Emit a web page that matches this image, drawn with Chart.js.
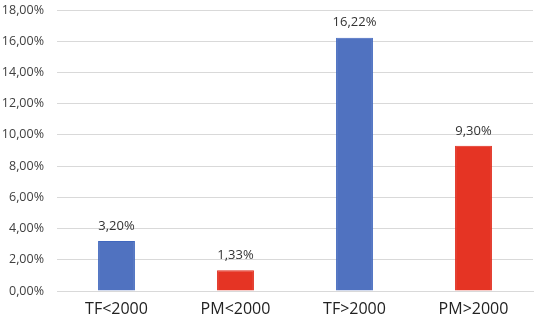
<!DOCTYPE html>
<html>
<head>
<meta charset="utf-8">
<script src="https://cdn.jsdelivr.net/npm/chart.js@4"></script>
<style>
  html, body { margin: 0; padding: 0; background: #fff; }
  #wrap { width: 536px; height: 320px; }
</style>
</head>
<body>
<div id="wrap"><canvas id="barChart" width="536" height="320"></canvas></div>
<script>
const categories = ['TF<2000', 'PM<2000', 'TF>2000', 'PM>2000'];
const percentages = [3.20, 1.33, 16.22, 9.30];
const barColors = ['#5072C0', '#E53424', '#5072C0', '#E53424'];
const borderColors = ['#4067BE', '#E02A1B', '#4067BE', '#E02A1B'];

const fmt = v => v.toFixed(2).replace('.', ',') + '%';

// draws the value above each bar
const valueLabels = {
    id: 'valueLabels',
    afterDatasetsDraw(chart) {
        const ctx = chart.ctx;
        const meta = chart.getDatasetMeta(0);
        ctx.save();
        ctx.font = '13px "Open Sans", sans-serif';
        ctx.fillStyle = '#333';
        ctx.textAlign = 'center';
        ctx.textBaseline = 'middle';
        meta.data.forEach((bar, i) => {
            ctx.fillText(fmt(percentages[i]), bar.x, bar.y - 15);
        });
        ctx.restore();
    }
};

new Chart(document.getElementById('barChart'), {
    type: 'bar',
    data: {
        labels: categories,
        datasets: [{
            data: percentages,
            backgroundColor: barColors,
            borderColor: borderColors,
            borderWidth: 1,
            barPercentage: 0.31,
            categoryPercentage: 1
        }]
    },
    options: {
        responsive: false,
        animation: false,
        layout: { padding: { top: 10, right: 3, left: 0, bottom: 0 } },
        plugins: {
            legend: { display: false },
            tooltip: { enabled: false }
        },
        scales: {
            x: {
                grid: { display: false, drawTicks: false },
                border: { color: '#d9d9d9' },
                ticks: {
                    color: '#222',
                    font: { family: '"Open Sans", sans-serif', size: 16 },
                    padding: 9
                },
                afterFit(scale) {
                    scale.height = 29;
                    scale.paddingLeft = 0;
                    scale.paddingRight = 0;
                }
            },
            y: {
                min: 0,
                max: 18,
                border: { display: false },
                grid: { color: '#d9d9d9', drawTicks: false },
                ticks: {
                    stepSize: 2,
                    color: '#404040',
                    padding: 13,
                    font: { family: '"Open Sans", sans-serif', size: 12.5 },
                    callback: v => fmt(v)
                },
                afterFit(scale) {
                    scale.width = 57;
                    scale.paddingTop = 0;
                    scale.paddingBottom = 0;
                }
            }
        }
    },
    plugins: [valueLabels]
});
</script>
</body>
</html>
